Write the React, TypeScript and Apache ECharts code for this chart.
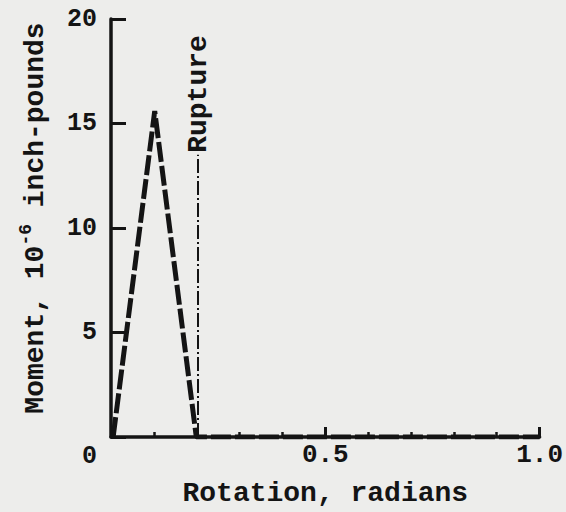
import React, { useEffect, useRef } from "react";
import * as echarts from "echarts";

const momentX: number[] = [0.005, 0.102, 0.199, 0.3, 0.4, 0.5, 0.6, 0.7, 0.8, 0.9, 1.0];
const momentY: number[] = [0, 15.6, 0, 0, 0, 0, 0, 0, 0, 0, 0];
const ruptureX: number[] = [0.203, 0.203];
const ruptureY: number[] = [0, 13.5];
const yTicks: number[] = [0, 5, 10, 15, 20];
const xLabels: string[] = ["0.5", "1.0"];

const FONT = "Liberation Mono";
const INK = "#141414";

export default function App() {
  const ref = useRef<HTMLDivElement>(null);
  useEffect(() => {
    if (!ref.current) return;
    const chart = echarts.init(ref.current, undefined, { renderer: "svg" });
    chart.setOption({
      animation: false,
      backgroundColor: "#ededeb",
      grid: { left: 111, top: 19, right: 23, bottom: 71, containLabel: false },
      xAxis: {
        type: "value",
        min: 0,
        max: 1,
        interval: 0.5,
        name: "Rotation, radians",
        nameLocation: "middle",
        nameGap: 42,
        nameTextStyle: { fontFamily: FONT, fontSize: 28, color: INK, fontWeight: "bold" },
        axisLine: { show: true, lineStyle: { color: INK, width: 3.5 } },
        axisTick: { show: true, inside: true, length: 10, lineStyle: { color: INK, width: 3 } },
        minorTick: { show: true, splitNumber: 5, length: 5, lineStyle: { color: INK, width: 2.5 } },
        splitLine: { show: false },
        axisLabel: {
          fontFamily: FONT,
          fontSize: 26,
          fontWeight: "bold",
          color: INK,
          margin: 5,
          formatter: (v: number) => (xLabels.includes(v.toFixed(1)) ? v.toFixed(1) : ""),
        },
      },
      yAxis: {
        type: "value",
        min: yTicks[0],
        max: yTicks[yTicks.length - 1],
        interval: 5,
        name: "{a|Moment, 10}{s|-6}{a| inch-pounds}",
        nameLocation: "middle",
        nameGap: 58,
        nameTextStyle: {
          fontFamily: FONT,
          fontSize: 28,
          color: INK,
          padding: [0, 0, 0, 20],
          rich: {
            a: { fontFamily: FONT, fontSize: 28, color: INK, fontWeight: "bold", lineHeight: 36 },
            s: { fontFamily: FONT, fontSize: 18, color: INK, fontWeight: "bold", lineHeight: 18, verticalAlign: "top" },
          },
        },
        axisLine: { show: true, lineStyle: { color: INK, width: 3.5 } },
        axisTick: { show: true, inside: true, length: 15, lineStyle: { color: INK, width: 3 } },
        splitLine: { show: false },
        axisLabel: {
          fontFamily: FONT,
          fontSize: 25,
          fontWeight: "bold",
          color: INK,
          margin: 14,
          formatter: (v: number) => (v === 0 ? "{z|0}" : String(v)),
          rich: {
            z: { fontFamily: FONT, fontSize: 25, fontWeight: "bold", color: INK, padding: [38, 0, 0, 0] },
          },
        },
      },
      series: [
        {
          type: "line",
          data: momentX.map((x, i) => [x, momentY[i]]),
          symbol: "none",
          lineStyle: { color: INK, width: 5, type: [20, 4] },
          z: 3,
        },
        {
          type: "line",
          data: ruptureX.map((x, i) => ({
            value: [x, ruptureY[i]],
            label:
              i === 1
                ? {
                    show: true,
                    position: "top",
                    distance: 2,
                    rotate: 90,
                    align: "left",
                    verticalAlign: "middle",
                    formatter: "Rupture",
                    fontFamily: FONT,
                    fontSize: 28,
                    color: INK,
                    fontWeight: "bold",
                  }
                : { show: false },
          })),
          symbol: "circle",
          symbolSize: 0.1,
          showSymbol: true,
          lineStyle: { color: INK, width: 2, type: [14, 3, 2, 3] },
          z: 2,
        },
      ],
    });
    return () => chart.dispose();
  }, []);
  return (
    <div
      ref={ref}
      style={{ position: "fixed", left: 0, top: 0, width: 566, height: 512 }}
    />
  );
}
